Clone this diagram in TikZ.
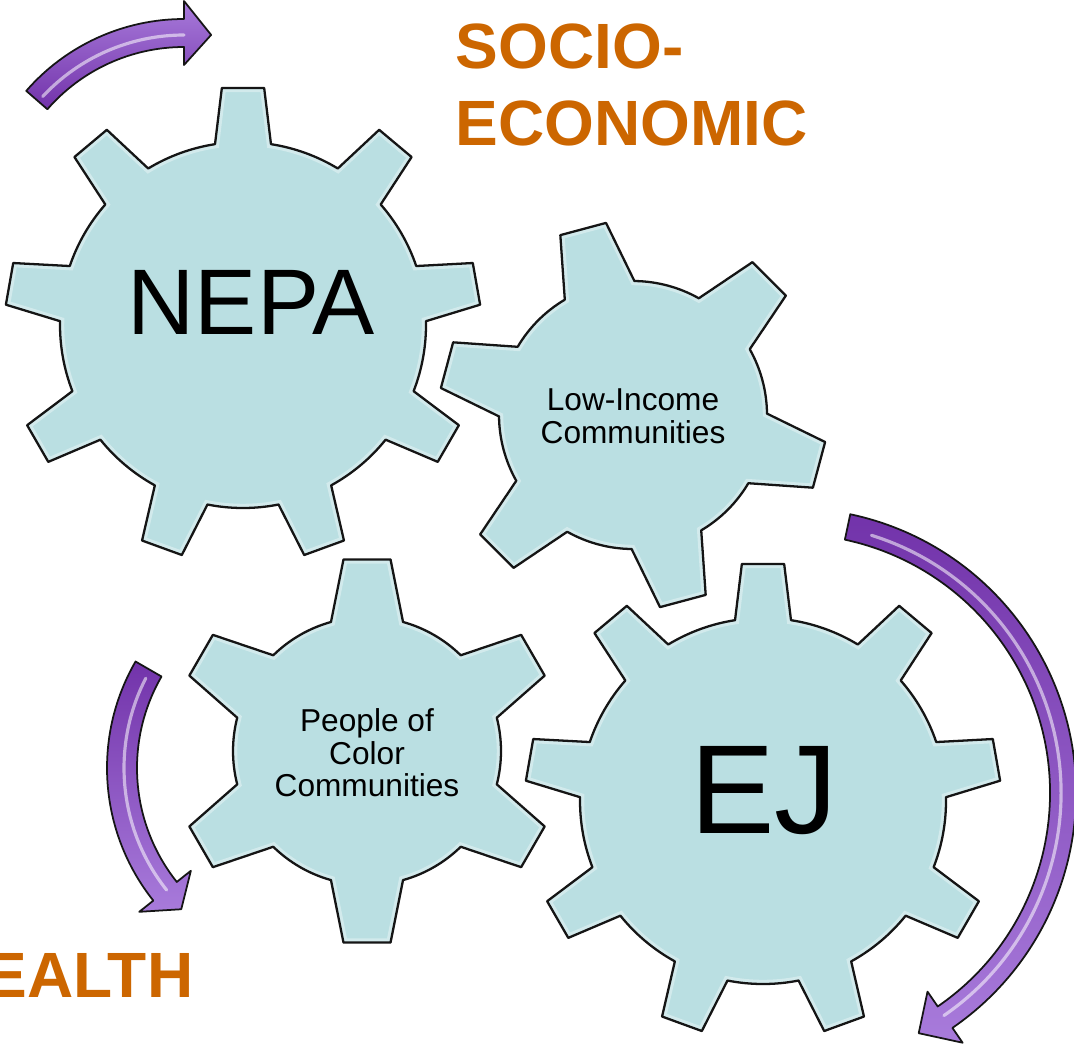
\documentclass[tikz,border=0pt]{standalone}
\usepackage{fontspec}
\setmainfont{Liberation Sans}
\definecolor{gearblue}{HTML}{BADFE2}
\definecolor{edgegray}{HTML}{151515}
\definecolor{labelorange}{HTML}{CC6600}
\definecolor{arrowdark}{HTML}{7233AA}
\definecolor{arrowlight}{HTML}{A87BDB}

\newcommand{\gearpath}[6]{%
	({#2-#5}:#3)
	\foreach \k in {1,...,#1}{
		-- ({#2+(\k-1)*360/#1-#6}:#4) -- ({#2+(\k-1)*360/#1+#6}:#4)
		-- ({#2+(\k-1)*360/#1+#5}:#3)
		arc[start angle={#2+(\k-1)*360/#1+#5}, end angle={#2+\k*360/#1-#5}, radius=#3]
	} -- cycle}

\newcommand{\drawgear}[7]{%
	\begin{scope}[shift={(#1)}]
		\fill[gear body] \gearpath{#2}{#3}{#4}{#5}{#6}{#7};
		\begin{scope}
			\clip \gearpath{#2}{#3}{#4}{#5}{#6}{#7};
			\draw[gear glow] \gearpath{#2}{#3}{#4}{#5}{#6}{#7};
		\end{scope}
		\draw[gear edge] \gearpath{#2}{#3}{#4}{#5}{#6}{#7};
	\end{scope}}

\newcommand{\bentarrow}[8]{%
	\begin{scope}[shift={(#1)}]
		\path[arrow edge, #8] (#5:{#2+#3}) arc[start angle=#5, end angle=#6, radius={#2+#3}]
			-- (#6:{#2+#4}) -- (#7:#2) -- (#6:{#2-#4}) -- (#6:{#2-#3})
			arc[start angle=#6, end angle=#5, radius={#2-#3}] -- cycle;
		\draw[arrow shine] ({#5+(#6-#5)*0.04}:{#2-2}) arc[start angle={#5+(#6-#5)*0.04}, end angle=#6, radius={#2-2}];
	\end{scope}}

\begin{document}
\begin{tikzpicture}[x=0.01cm, y=0.01cm]
	\tikzstyle{gear body}=[fill=gearblue]
	\tikzstyle{gear glow}=[draw=white, line width=2.4pt, opacity=.35]
	\tikzstyle{gear edge}=[draw=edgegray, line width=.65pt, line join=round]
	\tikzstyle{arrow edge}=[draw=edgegray, line width=.5pt, line join=round]
	\tikzstyle{arrow shine}=[draw=white, line width=.9pt, opacity=.55, line cap=round]
	\tikzstyle{gear label}=[inner sep=0pt, align=center, text=black]
	\tikzstyle{side label}=[inner sep=0pt, text=labelorange, font=\fontsize{18.2}{21}\selectfont\bfseries]

	\useasboundingbox (0,0) rectangle (1074,-1051);
	\clip (0,0) rectangle (1074,-1051);

	\drawgear{243,-325}{9}{10}{183}{238}{8.8}{5.1}
	\drawgear{633,-415}{6}{45}{134}{194}{15.6}{7}
	\drawgear{367,-751}{6}{30}{134}{193}{15.6}{7}
	\drawgear{763,-801}{9}{10}{183}{238}{8.8}{5.1}

	\bentarrow{184,-228}{195}{14}{32}{139}{90}{82}{top color=arrowlight, bottom color=arrowdark}
	\bentarrow{791,-793}{272}{13}{31}{78}{-55.5}{-62}{top color=arrowdark, bottom color=arrowlight}
	\bentarrow{320,-768}{198}{15}{33}{150}{218.5}{225.5}{top color=arrowdark, bottom color=arrowlight}

	\node[gear label, font=\fontsize{26.5}{30}\selectfont] (nepa) at (251,-302) {NEPA};
	\node[gear label, font=\fontsize{9}{9.4}\selectfont] (lowincome) at (633,-416) {Low-Income\\Communities};
	\node[gear label, font=\fontsize{9}{9.2}\selectfont] (people) at (367,-753) {People of\\Color\\Communities};
	\node[gear label, font=\fontsize{36}{40}\selectfont] (ej) at (764,-791) {EJ};

	\node[side label, anchor=base west] (socio) at (455,-68) {SOCIO-};
	\node[side label, anchor=base west] (economic) at (455,-145) {ECONOMIC};
	\node[side label, anchor=base east] (health) at (194,-997) {HEALTH};
\end{tikzpicture}
\end{document}
